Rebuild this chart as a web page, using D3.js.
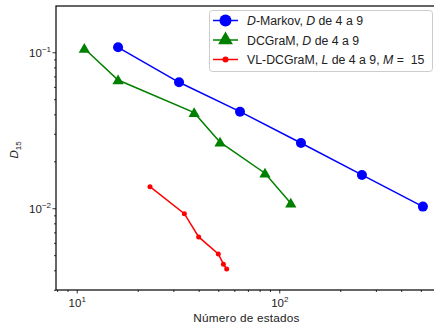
<!DOCTYPE html>
<html>
<head>
<meta charset="utf-8">
<script src="https://cdn.jsdelivr.net/npm/d3@7"></script>
<style>
  body { margin: 0; background: #fff; }
  svg { display: block; font-family: "Liberation Sans", Arial, sans-serif; }
</style>
</head>
<body>
<svg id="chart" width="434" height="329"></svg>
<script>
// data
const markovStates = [16, 32, 64, 128, 256, 512];
const markovD = [0.1076, 0.0642, 0.0416, 0.0262, 0.01635, 0.01024];

const dcgramStates = [10.9, 16, 38, 51, 85, 114];
const dcgramD = [0.1058, 0.0664, 0.0410, 0.0265, 0.01677, 0.01076];

const vlStates = [23, 34, 40, 50, 53, 55];
const vlD = [0.01375, 0.00923, 0.00655, 0.00509, 0.00438, 0.00408];

const xMajor = [10, 100];
const yMajor = [0.01, 0.1];
const xMinor = [8, 9, 20, 30, 40, 50, 60, 70, 80, 90, 200, 300, 400, 500];
const yMinor = [0.003, 0.004, 0.005, 0.006, 0.007, 0.008, 0.009,
                0.02, 0.03, 0.04, 0.05, 0.06, 0.07, 0.08, 0.09];

const svg = d3.select('#chart');
const mLeft = 56, mRight = 437, mTop = 6, mBottom = 290;

const x = d3.scaleLog().domain([7.9, 601]).range([mLeft, mRight]);
const y = d3.scaleLog().domain([0.00299, 0.198]).range([mBottom, mTop]);

// minor ticks
svg.append('g')
  .attr('transform', `translate(0,${mBottom})`)
  .call(d3.axisBottom(x).tickValues(xMinor).tickSize(2).tickFormat(''))
  .call(g => g.select('.domain').remove());
svg.append('g')
  .attr('transform', `translate(${mLeft},0)`)
  .call(d3.axisLeft(y).tickValues(yMinor).tickSize(2).tickFormat(''))
  .call(g => g.select('.domain').remove());

// major ticks
const xAxis = svg.append('g')
  .attr('transform', `translate(0,${mBottom})`)
  .call(d3.axisBottom(x).tickValues(xMajor).tickSize(3.5).tickPadding(3).tickFormat(''))
  .call(g => g.select('.domain').remove());
const yAxis = svg.append('g')
  .attr('transform', `translate(${mLeft},0)`)
  .call(d3.axisLeft(y).tickValues(yMajor).tickSize(3.5).tickPadding(3).tickFormat(''))
  .call(g => g.select('.domain').remove());

svg.selectAll('.tick line').attr('stroke', '#000').attr('stroke-width', 0.8);

// power labels
function powLabel(sel, exp) {
  sel.append('tspan').text('10');
  sel.append('tspan').attr('dy', -5).attr('font-size', 8).text(exp);
}
xAxis.selectAll('.tick').each(function(d) {
  const t = d3.select(this).append('text')
    .attr('y', 17).attr('fill', '#222').attr('font-size', 11.5)
    .attr('text-anchor', 'middle');
  powLabel(t, String(Math.round(Math.log10(d))));
});
yAxis.selectAll('.tick').each(function(d) {
  const t = d3.select(this).append('text')
    .attr('x', -5).attr('y', 4).attr('fill', '#222').attr('font-size', 11.5)
    .attr('text-anchor', 'end');
  powLabel(t, '\u2212' + String(-Math.round(Math.log10(d))));
});

// frame
svg.append('rect')
  .attr('x', mLeft).attr('y', mTop)
  .attr('width', mRight - mLeft).attr('height', mBottom - mTop)
  .attr('fill', 'none').attr('stroke', '#000').attr('stroke-width', 1.2);

// axis titles
svg.append('text')
  .attr('x', (mLeft + mRight) / 2).attr('y', 322)
  .attr('text-anchor', 'middle').attr('font-size', 11.8).attr('fill', '#222')
  .attr('letter-spacing', 0.2)
  .text('Número de estados');

const yl = svg.append('text')
  .attr('transform', `translate(18,${(mTop + mBottom) / 2 + 2}) rotate(-90)`)
  .attr('text-anchor', 'middle').attr('font-size', 11.5).attr('fill', '#222');
yl.append('tspan').attr('font-style', 'italic').text('D');
yl.append('tspan').attr('dy', 3).attr('font-size', 8).text('15');

// series
const line = d3.line().x(d => x(d[0])).y(d => y(d[1]));
const tri = d3.symbol().type(d3.symbolTriangle).size(55);

function drawSeries(xs, ys, color, marker) {
  const pts = xs.map((v, i) => [v, ys[i]]);
  const g = svg.append('g');
  g.append('path').datum(pts)
    .attr('d', line).attr('fill', 'none')
    .attr('stroke', color).attr('stroke-width', 1.5);
  if (marker === 'tri') {
    g.selectAll('path.m').data(pts).join('path').attr('class', 'm')
      .attr('transform', d => `translate(${x(d[0])},${y(d[1]) + 1})`)
      .attr('d', tri).attr('fill', color);
  } else {
    g.selectAll('circle').data(pts).join('circle')
      .attr('cx', d => x(d[0])).attr('cy', d => y(d[1]))
      .attr('r', marker).attr('fill', color);
  }
}
drawSeries(markovStates, markovD, '#0000ff', 5);
drawSeries(dcgramStates, dcgramD, '#008000', 'tri');
drawSeries(vlStates, vlD, '#ff0000', 2.5);

// legend
const lg = svg.append('g');
lg.append('rect')
  .attr('x', 209.5).attr('y', 10.5).attr('width', 223).attr('height', 61)
  .attr('rx', 3).attr('fill', '#fff').attr('fill-opacity', 0.8)
  .attr('stroke', '#ccc').attr('stroke-width', 1);

const legendRows = [
  { color: '#0000ff', marker: 6, parts: [['D', true], ['-Markov, ', false], ['D', true], [' de 4 a 9', false]] },
  { color: '#008000', marker: 'tri', parts: [['DCGraM, ', false], ['D', true], [' de 4 a 9', false]] },
  { color: '#ff0000', marker: 3, parts: [['VL-DCGraM, ', false], ['L', true], [' de 4 a 9, ', false], ['M', true], [' =  15', false]] }
];
legendRows.forEach((r, i) => {
  const cy = 20.5 + i * 19.5;
  lg.append('line').attr('x1', 213).attr('x2', 238).attr('y1', cy).attr('y2', cy)
    .attr('stroke', r.color).attr('stroke-width', 1.5);
  if (r.marker === 'tri') {
    lg.append('path').attr('transform', `translate(225.5,${cy})`)
      .attr('d', d3.symbol().type(d3.symbolTriangle).size(95)).attr('fill', r.color);
  } else {
    lg.append('circle').attr('cx', 225.5).attr('cy', cy).attr('r', r.marker).attr('fill', r.color);
  }
  const t = lg.append('text').attr('x', 247).attr('y', cy + 4.5)
    .attr('font-size', 12.3).attr('fill', '#222').attr('xml:space', 'preserve')
    .style('white-space', 'pre');
  r.parts.forEach(([s, it]) => {
    t.append('tspan').attr('font-style', it ? 'italic' : 'normal').text(s);
  });
});
</script>
</body>
</html>
